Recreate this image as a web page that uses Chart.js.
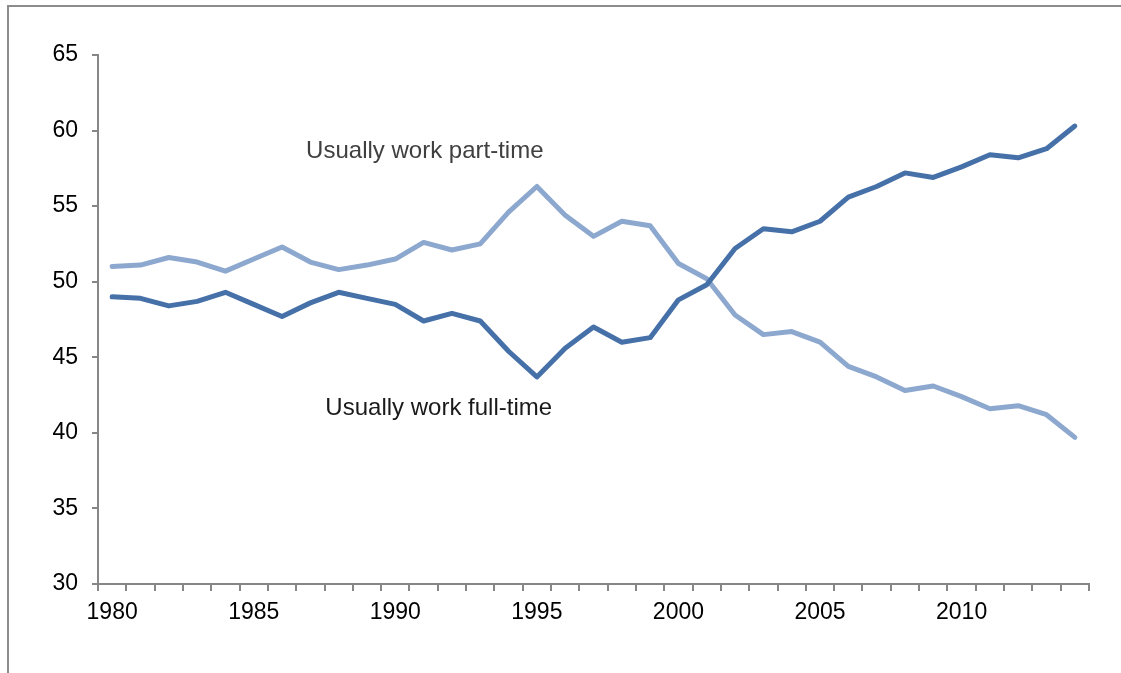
<!DOCTYPE html>
<html lang="en">
<head>
    <meta charset="UTF-8">
    <title>Full-time vs part-time work, 1980-2014</title>
    <script src="https://cdn.jsdelivr.net/npm/chart.js"></script>
    <style>
        html, body { margin: 0; padding: 0; background: #fff; }
        #wrap { position: relative; width: 1121px; height: 673px; }
    </style>
</head>
<body>
    <div id="wrap">
        <canvas id="workChart"></canvas>
    </div>

    <script>
        const years = [];
        for (let y = 1980; y <= 2014; y++) years.push(String(y));

        // Share usually working full-time (%)
        const fullTime = [
            49.0, 48.9, 48.4, 48.7, 49.3, 48.5, 47.7, 48.6, 49.3, 48.9,
            48.5, 47.4, 47.9, 47.4, 45.4, 43.7, 45.6, 47.0, 46.0, 46.3,
            48.8, 49.8, 52.2, 53.5, 53.3, 54.0, 55.6, 56.3, 57.2, 56.9,
            57.6, 58.4, 58.2, 58.8, 60.3
        ];

        // Share usually working part-time (%)
        const partTime = [
            51.0, 51.1, 51.6, 51.3, 50.7, 51.5, 52.3, 51.3, 50.8, 51.1,
            51.5, 52.6, 52.1, 52.5, 54.6, 56.3, 54.4, 53.0, 54.0, 53.7,
            51.2, 50.2, 47.8, 46.5, 46.7, 46.0, 44.4, 43.7, 42.8, 43.1,
            42.4, 41.6, 41.8, 41.2, 39.7
        ];

        const yTicks = [30, 35, 40, 45, 50, 55, 60, 65];

        // Series names written on the plot: [text, x (category index), y value, colour]
        const seriesNotes = [
            ['Usually work part-time', 6.85, 58.2, '#404040'],
            ['Usually work full-time', 7.53, 41.2, '#1a1a1a']
        ];

        const axisGrey = '#868686';
        const font = { family: 'Arial, "Liberation Sans", sans-serif', size: 23 };
        const noteFont = '24px Arial, "Liberation Sans", sans-serif';

        // outer frame around the figure (top and left edges only)
        const framePlugin = {
            id: 'frame',
            beforeDraw(chart) {
                const ctx = chart.ctx;
                ctx.save();
                ctx.strokeStyle = '#8c8c8c';
                ctx.lineWidth = 2;
                ctx.beginPath();
                ctx.moveTo(8, chart.height);
                ctx.lineTo(8, 6);
                ctx.lineTo(chart.width, 6);
                ctx.stroke();
                ctx.restore();
            }
        };

        const notesPlugin = {
            id: 'notes',
            afterDatasetsDraw(chart) {
                const ctx = chart.ctx;
                const xs = chart.scales.x, ys = chart.scales.y;
                ctx.save();
                ctx.font = noteFont;
                ctx.textAlign = 'left';
                ctx.textBaseline = 'alphabetic';
                seriesNotes.forEach(([text, xi, yv, color]) => {
                    ctx.fillStyle = color;
                    ctx.fillText(text, xs.getPixelForValue(xi), ys.getPixelForValue(yv));
                });
                ctx.restore();
            }
        };

        new Chart(document.getElementById('workChart'), {
            type: 'line',
            data: {
                labels: years,
                datasets: [
                    {
                        label: 'Usually work full-time',
                        data: fullTime,
                        borderColor: '#4670A8',
                        borderWidth: 5,
                        pointRadius: 0,
                        tension: 0,
                        borderCapStyle: 'round',
                        borderJoinStyle: 'round'
                    },
                    {
                        label: 'Usually work part-time',
                        data: partTime,
                        borderColor: '#8DA8CF',
                        borderWidth: 5,
                        pointRadius: 0,
                        tension: 0,
                        borderCapStyle: 'round',
                        borderJoinStyle: 'round'
                    }
                ]
            },
            options: {
                responsive: true,
                maintainAspectRatio: false,
                animation: false,
                layout: { padding: { top: 55, right: 32, left: 0, bottom: 0 } },
                plugins: {
                    legend: { display: false },
                    tooltip: { enabled: false }
                },
                scales: {
                    x: {
                        type: 'category',
                        offset: true,
                        grid: {
                            offset: true,
                            drawOnChartArea: false,
                            drawTicks: true,
                            tickLength: 7,
                            color: axisGrey,
                            lineWidth: 2
                        },
                        border: { display: true, color: axisGrey, width: 2 },
                        ticks: {
                            autoSkip: false,
                            maxRotation: 0,
                            padding: 8,
                            color: '#000',
                            font: font,
                            callback: (v, i) => (Number(years[i]) % 5 === 0 ? years[i] : '')
                        },
                        afterFit(scale) { scale.height = 89; }
                    },
                    y: {
                        min: 30,
                        max: 65,
                        afterBuildTicks(scale) { scale.ticks = yTicks.map(v => ({ value: v })); },
                        grid: {
                            drawOnChartArea: false,
                            drawTicks: true,
                            tickLength: 6,
                            color: axisGrey,
                            lineWidth: 2
                        },
                        border: { display: true, color: axisGrey, width: 2 },
                        ticks: {
                            padding: 14,
                            color: '#000',
                            font: font
                        },
                        afterFit(scale) { scale.width = 98; }
                    }
                }
            },
            plugins: [framePlugin, notesPlugin]
        });
    </script>
</body>
</html>
